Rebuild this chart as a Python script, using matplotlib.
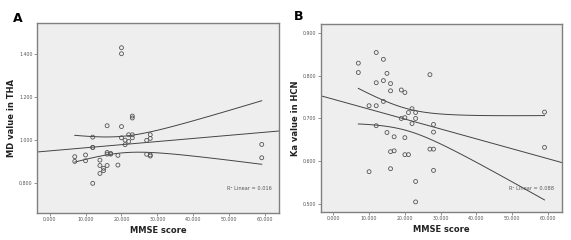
import numpy as np
import matplotlib
matplotlib.use("Agg")
import matplotlib.pyplot as plt
from matplotlib.ticker import FormatStrFormatter

# Panel A data: MMSE score vs MD value in THA
mmse_a = [20, 20, 16, 20, 23, 23, 12, 20, 22, 23, 23, 21, 22, 21, 28, 28, 27,
          12, 12, 7, 7, 10, 10, 14, 14, 14, 15, 15, 16, 16, 16, 17, 17, 19, 19,
          12, 27, 28, 28, 59, 59]
md_tha = [1.428, 1.400, 1.065, 1.061, 1.110, 1.101, 1.012, 1.009, 1.023, 1.023,
          1.009, 0.998, 0.992, 0.977, 1.023, 1.006, 0.997, 0.964, 0.964, 0.921,
          0.899, 0.929, 0.902, 0.905, 0.880, 0.843, 0.867, 0.856, 0.880, 0.941,
          0.933, 0.936, 0.933, 0.927, 0.882, 0.797, 0.932, 0.929, 0.924, 0.978,
          0.916]

# Panel B data: MMSE score vs Ka value in HCN
mmse_b = [12, 14, 7, 7, 15, 27, 12, 14, 16, 16, 19, 20, 14, 10, 12, 22, 21, 23,
          19, 20, 23, 22, 12, 28, 15, 28, 17, 20, 16, 17, 27, 28, 20, 21, 10, 16,
          28, 23, 23, 59, 59]
ka_hcn = [0.855, 0.839, 0.830, 0.808, 0.806, 0.803, 0.784, 0.789, 0.782, 0.765,
          0.767, 0.761, 0.740, 0.730, 0.730, 0.723, 0.714, 0.714, 0.700, 0.702,
          0.700, 0.688, 0.683, 0.686, 0.667, 0.668, 0.657, 0.655, 0.622, 0.624,
          0.628, 0.628, 0.615, 0.615, 0.575, 0.582, 0.578, 0.552, 0.504, 0.715,
          0.632]

x_ticks = [0, 10, 20, 30, 40, 50, 60]
yticks_a = [0.8, 1.0, 1.2, 1.4]
yticks_b = [0.5, 0.6, 0.7, 0.8, 0.9]
r2_labels = ["R\u00b2 Linear = 0.016", "R\u00b2 Linear = 0.088"]

T_CRIT = 2.023  # t(0.975, df=39)

fig = plt.figure(figsize=(5.71, 2.40), dpi=100)
fig.patch.set_facecolor("white")

face = "#EEEEEE"
edge = "#808080"


def panel(rect, xs, ys, ylim, yticks, ylabel, letter, letter_pos, r2, r2_pos):
    ax = fig.add_axes(rect)
    ax.set_facecolor(face)
    for s in ax.spines.values():
        s.set_color(edge)
        s.set_linewidth(1.0)
    xs = np.asarray(xs, float)
    ys = np.asarray(ys, float)
    ax.scatter(xs, ys, s=8, facecolors="none", edgecolors="#555555",
               linewidths=0.6, zorder=3)
    # linear fit
    n = len(xs)
    b, a = np.polyfit(xs, ys, 1)
    xl = np.linspace(-4, 66, 50)
    ax.plot(xl, a + b * xl, color="#444444", lw=0.7, zorder=2)
    # mean confidence band
    resid = ys - (a + b * xs)
    s_e = np.sqrt(np.sum(resid ** 2) / (n - 2))
    xm = xs.mean()
    sxx = np.sum((xs - xm) ** 2)
    xb = np.linspace(xs.min(), xs.max(), 100)
    half = T_CRIT * s_e * np.sqrt(1.0 / n + (xb - xm) ** 2 / sxx)
    ax.plot(xb, a + b * xb + half, color="#444444", lw=0.7, zorder=2)
    ax.plot(xb, a + b * xb - half, color="#444444", lw=0.7, zorder=2)

    ax.set_xlim(-3.5, 63.8)
    ax.set_ylim(*ylim)
    ax.set_xticks(x_ticks)
    ax.set_yticks(yticks)
    ax.xaxis.set_major_formatter(FormatStrFormatter("%.3f"))
    ax.yaxis.set_major_formatter(FormatStrFormatter("%.3f"))
    ax.tick_params(axis="both", labelsize=3.4, length=2, width=0.5,
                   color="#666666", labelcolor="#555555", pad=1)
    ax.set_xlabel("MMSE score", fontsize=6, fontweight="bold", labelpad=3,
                  color="#222222")
    ax.set_ylabel(ylabel, fontsize=6, fontweight="bold", color="#222222")
    ax.yaxis.set_label_coords(-0.085, 0.5)
    ax.text(r2_pos[0], r2_pos[1], r2, fontsize=3.6, color="#555555",
            ha="center", va="center")
    fig.text(letter_pos[0], letter_pos[1], letter, fontsize=9,
             fontweight="bold", ha="center", va="center")
    return ax


panel([0.0648, 0.1125, 0.4238, 0.7917], mmse_a, md_tha, (0.659, 1.543),
      yticks_a, "MD value in THA", "A", (0.031, 0.925),
      r2_labels[0], (55.5, 0.774))
panel([0.5617, 0.118, 0.422, 0.782], mmse_b, ka_hcn, (0.481, 0.922),
      yticks_b, "Ka value in HCN", "B", (0.523, 0.933),
      r2_labels[1], (55.5, 0.536))

fig.savefig("out.png", dpi=100, facecolor="white")
